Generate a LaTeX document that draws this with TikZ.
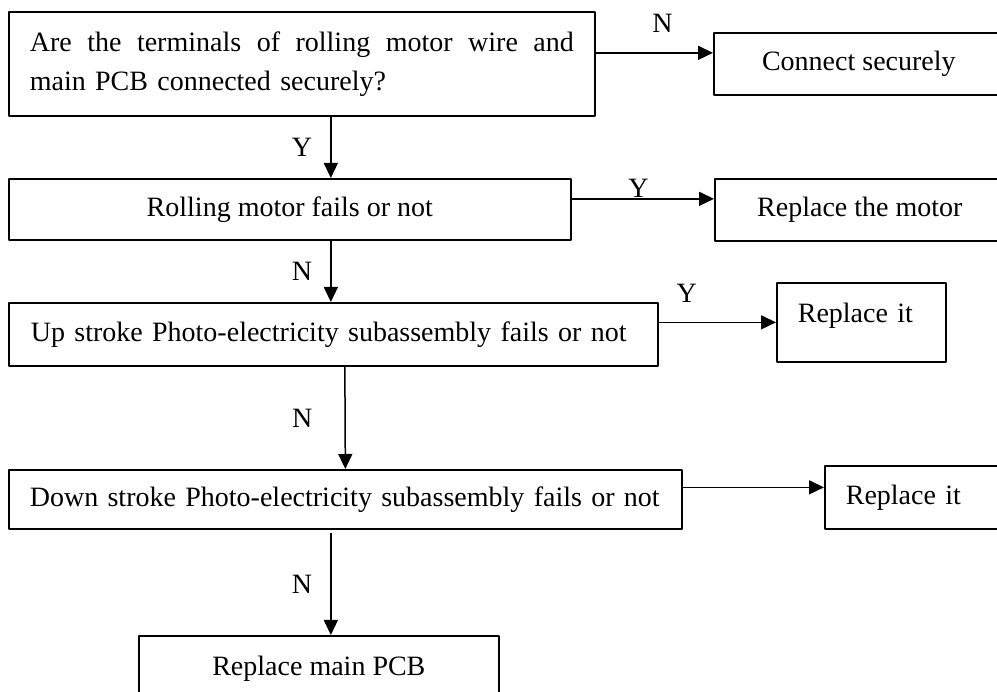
\documentclass[tikz,border=0pt]{standalone}
\usepackage{fontspec}
\setmainfont{Liberation Serif}
\usetikzlibrary{arrows.meta}
\begin{document}
\begin{tikzpicture}[x=1pt, y=-1pt, font=\fontsize{28}{39}\selectfont, line join=round,
		box/.style={draw, line width=1.7pt, inner sep=0pt, anchor=north west},
		arr/.style={line width=1.5pt, -{Triangle[length=15pt, width=14pt]}},
		lbl/.style={inner sep=0pt}]
	\useasboundingbox (0,0) rectangle (997,692);
	\clip (0,0) rectangle (997,692);
	% checks on the left
	\node[box, minimum width=586pt, minimum height=104pt, text width=544pt, inner xsep=21pt, align=left] (chk) at (8,11) {\hbox to 544pt{Are\hfill the\hfill terminals\hfill of\hfill rolling\hfill motor\hfill wire\hfill and}\\main PCB connected securely?};
	\node[box, minimum width=562pt, minimum height=61pt] (motor) at (8,178) {Rolling motor fails or not};
	\node[box, minimum width=649pt, minimum height=63pt, text width=605pt, inner xsep=22pt, align=left] (up) at (8,302) {Up stroke Photo-electricity subassembly fails or not};
	\node[box, minimum width=673pt, minimum height=59pt, text width=631pt, inner xsep=21pt, align=left] (down) at (8,469) {Down stroke Photo-electricity subassembly fails or not};
	\node[box, minimum width=360pt, minimum height=66pt] (pcb) at (138,635) {Replace main PCB};
	% fixes on the right
	\node[box, minimum width=290pt, minimum height=62pt] (secure) at (713,32) {Connect securely};
	\node[box, minimum width=290pt, minimum height=62pt] (newmotor) at (714,178) {Replace the motor};
	\node[box, minimum width=169pt, minimum height=79pt, text width=127pt, inner xsep=21pt, align=left, text height=20pt, text depth=19pt] (newup) at (776,282) {Replace it};
	\node[box, minimum width=182pt, minimum height=63pt, text width=140pt, inner xsep=21pt, align=left] (newdown) at (824,465) {Replace it};
	% arrows
	\draw[arr] ([yshift=11pt]chk.east) -- ([yshift=11pt]secure.west) node[lbl, pos=0.57, above=20pt] {N};
	\draw[arr] ([xshift=29pt]chk.south) -- ([xshift=41pt]motor.north) node[lbl, midway, left=18pt] {Y};
	\draw[arr] ([yshift=10.5pt]motor.east) -- ([yshift=11pt]newmotor.west) node[lbl, pos=0.47, above=1pt] {Y};
	\draw[arr] ([xshift=41pt]motor.south) -- ([xshift=-2.5pt]up.north) node[lbl, midway, left=18pt] {N};
	\draw[arr] (up.east |- newup.west) -- (newup.west) node[lbl, pos=0.24, above=19pt] {Y};
	\draw[arr] ([xshift=11.5pt]up.south) -- (down.north) node[lbl, midway, left=32pt] {N};
	\draw[arr] ([yshift=12pt]down.east) -- ([yshift=10pt]newdown.west);
	\draw[arr] ([xshift=-14.5pt, yshift=-3pt]down.south) -- ([xshift=12pt]pcb.north) node[lbl, midway, left=18pt] {N};
\end{tikzpicture}
\end{document}
